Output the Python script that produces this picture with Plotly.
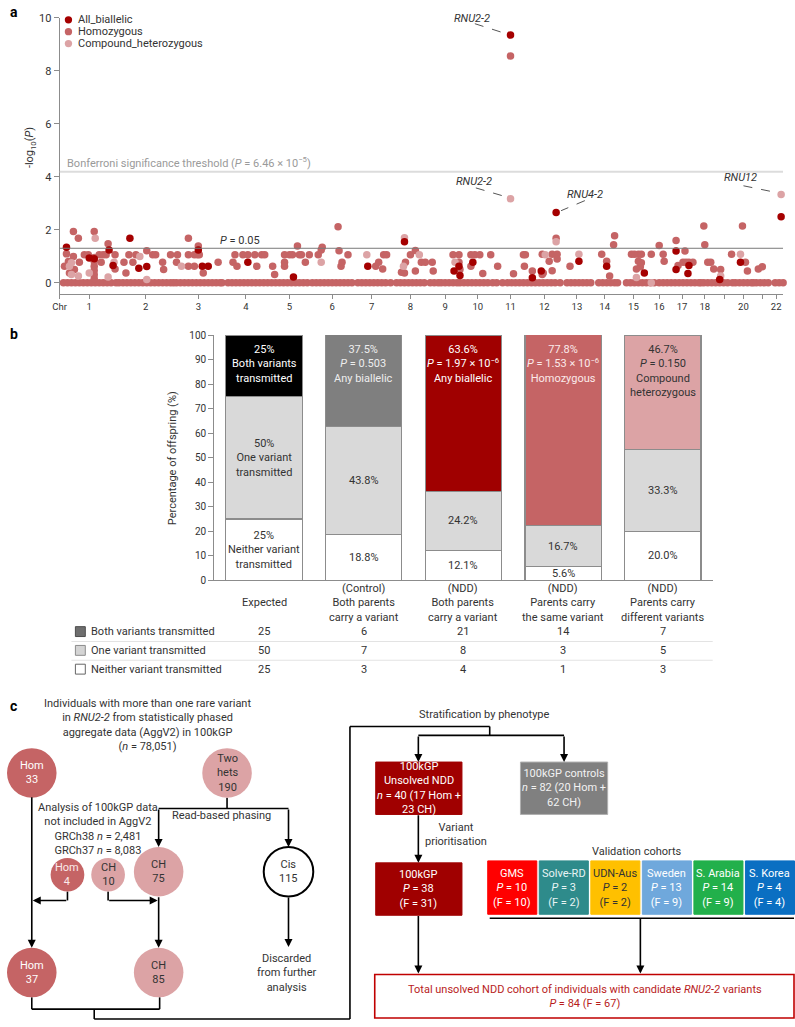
import math
import plotly.graph_objects as go

W, H = 795, 1027
FONT = "Roboto"
TXT = "#333333"
AXC = "#8c8c8c"

HOM_C = "#c56465"
CH_C = "#dca3a5"
ALL_C = "#a50000"

# ---------------- panel a: Manhattan plot ----------------
# x = cumulative genomic position (bins of ~4 Mb), y = -log10(P)
CHR_TICK_POS = [0, 30, 87, 140, 188, 232, 275, 315, 354, 389, 422, 455,
                489, 522, 550, 579, 605, 628, 651, 671, 690, 709, 723]
CHR_TICK_TEXT = ["Chr", "1", "2", "3", "4", "5", "6", "7", "8", "9", "10", "11",
                 "12", "13", "14", "15", "16", "17", "18", "", "20", "", "22"]

BONFERRONI_P = 6.46e-5
NOMINAL_P = 0.05

HOM_POINTS = [
    (5, 0.62), (7, 1.09), (9, 0.80), (10, 0.37), (14, 1.93), (14, 0.99), (15, 0.50), (19, 1.68), (20, 0.77),
    (25, 1.06), (29, 1.06), (35, 1.93), (35, 0.95), (35, 0.80), (35, 0.62), (35, 0.46), (35, 0.30), (35, 0.15),
    (40, 1.06), (42, 0.77), (44, 1.06), (47, 1.06), (49, 1.47), (56, 1.06), (56, 0.52),
    (65, 0.77), (67, 0.37), (70, 1.06), (74, 0.77), (77, 1.06), (88, 1.21), (94, 1.06), (97, 1.06),
    (104, 0.77), (105, 0.50), (112, 1.06), (118, 0.77), (119, 1.06), (130, 1.68), (130, 1.06), (130, 0.62),
    (136, 1.06), (136, 0.62), (139, 1.06), (140, 1.39), (141, 1.06), (145, 0.37), (160, 0.77),
    (175, 0.77), (177, 1.06), (179, 0.62), (185, 1.06), (190, 1.06), (197, 1.06), (199, 0.62), (204, 1.06),
    (207, 1.06), (215, 0.62), (217, 0.31), (227, 1.06), (227, 0.77), (227, 0.62), (232, 1.06), (235, 1.06),
    (240, 1.39), (242, 1.06), (244, 1.06), (248, 0.77), (252, 1.06), (261, 1.06), (264, 1.24), (265, 1.34),
    (281, 2.11), (282, 1.21), (284, 0.62), (285, 0.77), (291, 1.06),
    (319, 0.62), (322, 0.77), (326, 0.52), (327, 1.06), (330, 1.06),
    (345, 0.40), (348, 0.37), (349, 0.77), (354, 1.06), (359, 1.22), (359, 0.44), (365, 0.77), (369, 0.77),
    (376, 0.77), (377, 0.44), (397, 1.06), (403, 1.06), (403, 0.77), (404, 0.50), (415, 1.06), (415, 0.62),
    (419, 1.06), (424, 1.06), (427, 0.35), (435, 1.06), (442, 0.62),
    (455, 8.56), (458, 0.34), (468, 1.06), (469, 0.62), (470, 1.06), (477, 0.44), (487, 0.31), (488, 0.37),
    (487, 1.08), (494, 0.81), (497, 1.08), (497, 0.45), (501, 1.68), (502, 1.08), (502, 0.90), (515, 0.62),
    (547, 1.08), (552, 0.81), (555, 0.25), (559, 1.43), (560, 1.77),
    (577, 1.08), (580, 1.08), (582, 0.52), (584, 1.08), (584, 0.81), (586, 0.60), (587, 1.08), (587, 0.75),
    (597, 1.08), (605, 1.41), (609, 1.08), (610, 0.81), (622, 1.59), (624, 0.65), (629, 0.77), (631, 1.20),
    (632, 0.77), (635, 0.77), (639, 0.77), (650, 2.14), (651, 1.43), (654, 0.77), (657, 0.77), (660, 0.52),
    (667, 0.50), (678, 1.08), (689, 2.14), (692, 0.77), (694, 0.44), (705, 0.52), (709, 0.60),
]

# homozygous tests with -log10(P) = 0 (the dense band on the baseline)
HOM_ZERO_POS = [
    4, 8, 12, 16, 20, 24, 28, 32, 36, 40, 44, 48, 52, 57,
    60, 64, 68, 72, 76, 80, 84, 88, 92, 96, 100, 104, 108, 112, 115,
    118, 122, 126, 130, 134, 138, 142, 146, 150, 154, 158, 162, 164,
    170, 174, 178, 182, 186, 190, 194, 198, 202, 206, 210,
    214, 218, 222, 226, 230, 234, 238, 242, 246, 250, 255,
    259, 263, 267, 271, 275, 279, 283, 287, 291, 295,
    301, 305, 309, 313, 317, 321, 325, 329, 334,
    340, 344, 348, 352, 356, 360, 364, 368, 374, 378, 382, 385,
    389, 393, 397, 401, 404, 408, 412, 416, 420, 424, 428, 432, 437, 441, 447,
    452, 456, 460, 464, 468, 472, 476, 480, 484, 488, 492, 496, 500, 505,
    512, 516, 520, 524, 528, 532, 536, 544, 548, 552, 556, 560, 563,
    572, 576, 580, 584, 588, 592, 596, 600,
    605, 609, 613, 617, 621, 625, 629, 633, 637, 641, 645, 647,
    650, 654, 658, 662, 666, 670, 674, 679, 682, 686, 690, 694, 698, 700,
    703, 707, 711, 715, 722, 726, 730,
]

CH_POINTS = [
    (10, 0.62), (12, 0.75), (12, 0.31), (19, 0.25), (30, 0.37), (36, 1.68), (49, 0.22), (55, 0.77),
    (81, 0.99), (88, 0.12), (123, 0.62), (264, 0.77), (310, 1.06), (347, 0.62), (348, 1.70), (363, 1.06),
    (399, 0.77), (455, 3.17), (490, 1.06), (501, 1.55), (524, 1.08), (582, 0.20), (597, 0.0), (667, 0.25),
    (687, 1.08), (728, 3.33),
]

ALL_POINTS = [
    (7, 1.34), (30, 0.93), (35, 0.91), (50, 1.24), (54, 0.65), (71, 1.68), (80, 0.55), (88, 0.61),
    (140, 1.24), (144, 0.62), (150, 0.62), (190, 0.77), (236, 0.22), (311, 0.62), (348, 1.55), (398, 0.44),
    (403, 0.62), (404, 0.27), (417, 0.77), (455, 9.35), (477, 0.19), (486, 0.44), (501, 2.65), (524, 0.81),
    (552, 0.62), (590, 0.37), (622, 1.20), (622, 0.50), (634, 0.35), (635, 0.65), (666, 0.12), (687, 0.77),
    (728, 2.49),
]

LEGEND_NAMES = ["All_biallelic", "Homozygous", "Compound_heterozygous"]

# ---------------- panel b: transmission bars + table ----------------
GROUP_KEYS = ["exp", "ctrl", "ndd_any", "ndd_same", "ndd_diff"]
GROUP_LABELS = ["Expected",
                "(Control)<br>Both parents<br>carry a variant",
                "(NDD)<br>Both parents<br>carry a variant",
                "(NDD)<br>Parents carry<br>the same variant",
                "(NDD)<br>Parents carry<br>different variants"]
NEITHER_PCT = [25, 18.8, 12.1, 5.6, 20.0]
ONE_PCT = [50, 43.8, 24.2, 16.7, 33.3]
BOTH_PCT = [25, 37.5, 63.6, 77.8, 46.7]

BOTH_N = [25, 6, 21, 14, 7]
ONE_N = [50, 7, 8, 3, 5]
NEITHER_N = [25, 3, 4, 1, 3]

TOP_LABELS = ["25%<br>Both variants<br>transmitted",
              "37.5%<br><i>P</i> = 0.503<br>Any biallelic",
              "63.6%<br><i>P</i> = 1.97 × 10<sup>−6</sup><br>Any biallelic",
              "77.8%<br><i>P</i> = 1.53 × 10<sup>−6</sup><br>Homozygous",
              "46.7%<br><i>P</i> = 0.150<br>Compound<br>heterozygous"]
MID_LABELS = ["50%<br>One variant<br>transmitted", "43.8%", "24.2%", "16.7%", "33.3%"]
BOT_LABELS = ["25%<br>Neither variant<br>transmitted", "18.8%", "12.1%", "5.6%", "20.0%"]

BOTH_COLORS = ["#000000", "#7f7f7f", "#a00000", "#c56465", "#dca3a5"]
TOP_TEXT_COLORS = ["white", "#eeeeee", "white", "#fbeaea", TXT]


def X(px):
    return px / W


def Y(py):
    return 1 - py / H


shapes = []
ann = []


def text(px, py, s, size=11, color=TXT, xanchor="center", yanchor="middle", **kw):
    ann.append(dict(x=X(px), y=Y(py), xref="paper", yref="paper", text=s, showarrow=False,
                    xanchor=xanchor, yanchor=yanchor,
                    font=dict(size=size, color=color, family=FONT), **kw))


def line(x0, y0, x1, y1, color="black", w=1.6):
    shapes.append(dict(type="line", xref="paper", yref="paper", x0=X(x0), y0=Y(y0),
                       x1=X(x1), y1=Y(y1), line=dict(color=color, width=w)))


def arrow(x0, y0, x1, y1):
    ann.append(dict(x=X(x1), y=Y(y1), xref="paper", yref="paper", ax=x0 - x1, ay=y0 - y1,
                    axref="pixel", ayref="pixel", text="", showarrow=True, arrowhead=2,
                    arrowsize=1, arrowwidth=1.6, arrowcolor="black", standoff=0))


def circle(cx, cy, r, fill, label, tcolor, edge=None):
    shapes.append(dict(type="circle", xref="paper", yref="paper",
                       x0=X(cx - r), x1=X(cx + r), y0=Y(cy + r), y1=Y(cy - r),
                       fillcolor=fill, line=dict(color=edge or fill, width=2 if edge else 0)))
    text(cx, cy, label, color=tcolor)


def box(x0, y0, x1, y1, fill, label=None, tcolor="white", edge=None, w=1):
    shapes.append(dict(type="rect", xref="paper", yref="paper", x0=X(x0), x1=X(x1),
                       y0=Y(y1), y1=Y(y0), fillcolor=fill,
                       line=dict(color=edge or fill, width=w)))
    if label:
        text((x0 + x1) / 2, (y0 + y1) / 2, label, color=tcolor)


fig = go.Figure()

# ---- panel a traces ----
fig.add_trace(go.Scatter(x=HOM_ZERO_POS, y=[0.0] * len(HOM_ZERO_POS), mode="markers",
                         marker=dict(size=7.5, color=HOM_C), cliponaxis=False, hoverinfo="skip"))
fig.add_trace(go.Scatter(x=[p for p, _ in HOM_POINTS], y=[v for _, v in HOM_POINTS], mode="markers",
                         marker=dict(size=7.5, color=HOM_C), cliponaxis=False, name=LEGEND_NAMES[1]))
fig.add_trace(go.Scatter(x=[p for p, _ in CH_POINTS], y=[v for _, v in CH_POINTS], mode="markers",
                         marker=dict(size=7.5, color=CH_C), cliponaxis=False, name=LEGEND_NAMES[2]))
fig.add_trace(go.Scatter(x=[p for p, _ in ALL_POINTS], y=[v for _, v in ALL_POINTS], mode="markers",
                         marker=dict(size=7.5, color=ALL_C), cliponaxis=False, name=LEGEND_NAMES[0]))

bonf = -math.log10(BONFERRONI_P)
nominal = -math.log10(NOMINAL_P)
shapes.append(dict(type="line", xref="x", yref="y", x0=0, x1=730, y0=bonf, y1=bonf,
                   line=dict(color="#dcdcdc", width=2)))
shapes.append(dict(type="line", xref="x", yref="y", x0=0, x1=730, y0=nominal, y1=nominal,
                   line=dict(color="#7a7a7a", width=1)))
ann.append(dict(x=6, y=bonf + 0.36, xref="x", yref="y", xanchor="left", yanchor="middle", showarrow=False,
                text="Bonferroni significance threshold (<i>P</i> = 6.46 × 10<sup>−5</sup>)",
                font=dict(size=11, color="#9a9a9a", family=FONT)))
ann.append(dict(x=182, y=nominal + 0.30, xref="x", yref="y", showarrow=False,
                text="<i>P</i> = 0.05", font=dict(size=11, color=TXT, family=FONT)))

# gene labels with dashed leaders: (label, label pos, leader start, leader end)
gene_labels = [
    ("RNU2-2", (416, 9.96), (419, 9.78), (449, 9.42)),
    ("RNU2-2", (418, 3.81), (420, 3.58), (450, 3.25)),
    ("RNU4-2", (530, 3.32), (530, 3.10), (506, 2.72)),
    ("RNU12", (687, 3.96), (690, 3.66), (724, 3.40)),
]
for name, lp, a, b in gene_labels:
    ann.append(dict(x=lp[0], y=lp[1], xref="x", yref="y", showarrow=False, text=f"<i>{name}</i>",
                    font=dict(size=11, color=TXT, family=FONT)))
    shapes.append(dict(type="line", xref="x", yref="y", x0=a[0], y0=a[1], x1=b[0], y1=b[1],
                       line=dict(color="#555555", width=1, dash="dash")))

# manual legend
for i, (name, col) in enumerate(zip(LEGEND_NAMES, [ALL_C, HOM_C, CH_C])):
    cy = 14 + 12 * i
    shapes.append(dict(type="circle", xref="paper", yref="paper", x0=X(58.3), x1=X(65.7),
                       y0=Y(cy + 3.7), y1=Y(cy - 3.7), fillcolor=col, line=dict(width=0)))
    text(70, cy, name, xanchor="left")

text(24, 143, "-log<sub>10</sub>(<i>P</i>)", textangle=-90)
text(1, 6, "<b>a</b>", size=14, color="black", xanchor="left")

# ---- panel b traces ----
bar_line = dict(color="#8c8c8c", width=1.2)
fig.add_trace(go.Bar(x=GROUP_KEYS, y=NEITHER_PCT, width=0.765, xaxis="x2", yaxis="y2",
                     marker=dict(color="white", line=bar_line), hoverinfo="skip"))
fig.add_trace(go.Bar(x=GROUP_KEYS, y=ONE_PCT, width=0.765, xaxis="x2", yaxis="y2",
                     marker=dict(color="#d9d9d9", line=bar_line), hoverinfo="skip"))
fig.add_trace(go.Bar(x=GROUP_KEYS, y=BOTH_PCT, width=0.765, xaxis="x2", yaxis="y2",
                     marker=dict(color=BOTH_COLORS, line=bar_line), hoverinfo="skip"))

for i, key in enumerate(GROUP_KEYS):
    f = dict(size=11, family=FONT)
    ann.append(dict(x=key, y=NEITHER_PCT[i] / 2, xref="x2", yref="y2", showarrow=False,
                    text=BOT_LABELS[i], font=dict(color=TXT, **f)))
    ann.append(dict(x=key, y=NEITHER_PCT[i] + ONE_PCT[i] / 2, xref="x2", yref="y2", showarrow=False,
                    text=MID_LABELS[i], font=dict(color=TXT, **f)))
    ann.append(dict(x=key, y=100, xref="x2", yref="y2", showarrow=False, yanchor="top", yshift=-6,
                    text=TOP_LABELS[i], font=dict(color=TOP_TEXT_COLORS[i], **f)))
    ann.append(dict(x=key, y=Y(604), xref="x2", yref="paper", showarrow=False, yanchor="middle",
                    text=GROUP_LABELS[i], font=dict(color=TXT, **f)))

text(167, 458, "Percentage of offspring (%)", textangle=-90)
text(1, 332, "<b>b</b>", size=14, color="black", xanchor="left")

# table under the bars
table_rows = [
    ("Both variants transmitted", BOTH_N, "#6e6e6e", "#4d4d4d", 633),
    ("One variant transmitted", ONE_N, "#d4d4d4", "#8c8c8c", 652),
    ("Neither variant transmitted", NEITHER_N, "white", "#666666", 671),
]
for name, counts, fill, edge, py in table_rows:
    shapes.append(dict(type="rect", xref="paper", yref="paper", x0=X(69), x1=X(79),
                       y0=Y(py + 5), y1=Y(py - 5), fillcolor=fill, line=dict(color=edge, width=1)))
    text(83, py, name, xanchor="left")
    for key, n in zip(GROUP_KEYS, counts):
        ann.append(dict(x=key, y=Y(py), xref="x2", yref="paper", showarrow=False, text=str(n),
                        font=dict(size=11, color=TXT, family=FONT)))
for py in (643, 662):
    line(65, py, 712, py, color="#e3e3e3", w=1)

# ---------------- panel c: flow chart ----------------
text(1, 708, "<b>c</b>", size=14, color="black", xanchor="left")
text(142, 727, "Individuals with more than one rare variant<br>in <i>RNU2-2</i> from statistically phased"
               "<br>aggregate data (AggV2) in 100kGP<br>(<i>n</i> = 78,051)")

# connectors
arrow(25, 801, 25, 953)
line(222, 801, 222, 812)
line(153, 812, 284, 812)
arrow(153, 812, 153, 851)
arrow(284, 812, 284, 851)
line(61, 896, 61, 905)
arrow(61, 905, 26, 905)
line(102, 896, 102, 905)
arrow(102, 905, 152, 905)
arrow(153, 901, 153, 953)
arrow(284, 901, 284, 952)
line(25, 1003, 25, 1015)
line(25, 1015, 154, 1015)
line(154, 1015, 154, 1003)
line(88, 1015, 88, 1025)
line(88, 1025, 346, 1025)
line(346, 1025, 346, 729)
line(346, 729, 487, 729)
line(487, 729, 487, 738)
line(415, 738, 562, 738)
arrow(415, 738, 415, 765)
arrow(562, 738, 562, 765)
arrow(415, 818, 415, 867)
arrow(415, 920, 415, 979)
line(487, 923, 794, 923)
arrow(639, 923, 639, 979)

circle(25, 776, 25, HOM_C, "Hom<br>33", "white")
circle(222, 776, 25, CH_C, "Two<br>hets<br>190", TXT)
circle(61, 879, 17, HOM_C, "Hom<br>4", "#fbeaea")
circle(102, 879, 17, CH_C, "CH<br>10", TXT)
circle(153, 876, 25, CH_C, "CH<br>75", TXT)
circle(284, 876, 25, "white", "Cis<br>115", TXT, edge="black")
circle(25, 978, 25, HOM_C, "Hom<br>37", "white")
circle(153, 978, 25, CH_C, "CH<br>85", TXT)

text(216, 819, "Read-based phasing")
text(92, 833, "Analysis of 100kGP data<br>not included in AggV2<br>GRCh38 <i>n</i> = 2,481"
              "<br>GRCh37 <i>n</i> = 8,083")
text(282, 978, "Discarded<br>from further<br>analysis")
text(482, 717, "Stratification by phenotype")
text(453, 838, "Variant<br>prioritisation")
text(636, 856, "Validation cohorts")

box(372, 765, 459, 818, "#a00000", "100kGP<br>Unsolved NDD<br><i>n</i> = 40 (17 Hom +<br>23 CH)")
box(518, 765, 606, 818, "#808080", "100kGP controls<br><i>n</i> = 82 (20 Hom +<br>62 CH)",
    tcolor="#f2f2f2", edge="#b0b0b0")
box(372, 867, 459, 920, "#a00000", "100kGP<br><i>P</i> = 38<br>(F = 31)")

cohorts = [
    ("GMS", 10, 10, "#ff0000", "white"),
    ("Solve-RD", 3, 2, "#2e8b8b", "#e8f4f4"),
    ("UDN-Aus", 2, 2, "#ffc000", TXT),
    ("Sweden", 13, 9, "#6fa8dc", "white"),
    ("S. Arabia", 14, 9, "#22b04b", "white"),
    ("S. Korea", 4, 4, "#0a6fc2", "white"),
]
cx0 = 485
for name, p, fam, col, tc in cohorts:
    box(cx0, 865, cx0 + 49.5, 919, col, f"{name}<br><i>P</i> = {p}<br>(F = {fam})", tcolor=tc)
    cx0 += 52

box(371, 980, 794, 1024, "white", None, edge="#c00000", w=1.6)
text(583, 1002, "Total unsolved NDD cohort of individuals with candidate <i>RNU2-2</i> variants"
                "<br><i>P</i> = 84 (F = 67)", color="#b81c1c")

fig.update_layout(
    width=W, height=H, margin=dict(l=0, r=0, t=0, b=0),
    paper_bgcolor="white", plot_bgcolor="white", showlegend=False,
    barmode="stack", font=dict(family=FONT, size=11, color=TXT),
    xaxis=dict(domain=[X(53), X(783)], range=[0, 730], anchor="y", showline=True, linecolor=AXC,
               ticks="outside", ticklen=4, tickcolor=AXC, tickvals=CHR_TICK_POS, ticktext=CHR_TICK_TEXT,
               tickfont=dict(size=9.5, color=TXT), showgrid=False, zeroline=False),
    yaxis=dict(domain=[Y(291), Y(12)], range=[-0.41, 10], anchor="x", showline=True, linecolor=AXC,
               ticks="outside", ticklen=5, tickcolor=AXC, tickvals=[0, 2, 4, 6, 8, 10],
               tickfont=dict(size=11, color=TXT), showgrid=False, zeroline=False),
    xaxis2=dict(domain=[X(209), X(712)], range=[-0.5, 4.5], anchor="y2", type="category",
                showline=True, linecolor=AXC, showticklabels=False, ticks="", showgrid=False),
    yaxis2=dict(domain=[Y(581), Y(333)], range=[0, 100], anchor="x2", dtick=10, showline=True,
                linecolor=AXC, ticks="outside", ticklen=5, tickcolor=AXC,
                tickfont=dict(size=10, color=TXT), showgrid=False, zeroline=False),
    shapes=shapes, annotations=ann,
)

fig.write_html("out.html", config={"displayModeBar": False},
               post_script="document.body.style.margin='0';")
